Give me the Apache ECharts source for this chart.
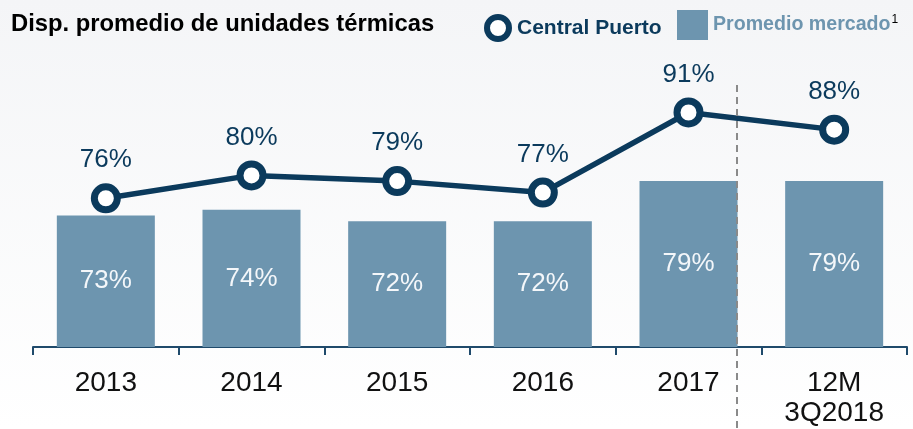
<!DOCTYPE html>
<html>
<head>
<meta charset="utf-8">
<script src="https://cdn.jsdelivr.net/npm/echarts@6/dist/echarts.min.js"></script>
<style>
  html, body { margin: 0; padding: 0; }
  #chart { width: 913px; height: 429px; }
</style>
</head>
<body>
<div id="chart"></div>
<script>
// categorias y valores
var categorias = ['2013', '2014', '2015', '2016', '2017', '12M\n3Q2018'];
var promedioMercado = [73, 74, 72, 72, 79, 79];
var centralPuerto = [76, 80, 79, 77, 91, 88];

var azulOscuro = '#0b3a5c';
var azulBarra = '#6d95af';
var fuente = 'Liberation Sans, Arial, sans-serif';

var chartDom = document.getElementById('chart');
var chart = echarts.init(chartDom);

var option = {
  animation: false,
  backgroundColor: new echarts.graphic.LinearGradient(0, 0, 0, 1, [
    { offset: 0, color: '#f4f5f7' },
    { offset: 1, color: '#ffffff' }
  ]),
  title: {
    text: 'Disp. promedio de unidades térmicas',
    left: 6,
    top: 7,
    textStyle: {
      fontFamily: fuente,
      fontSize: 23.8,
      fontWeight: 'bold',
      color: '#000'
    }
  },
  legend: [{
    data: [{
      name: 'Central Puerto',
      icon: 'circle',
      itemStyle: { color: '#fff', borderColor: azulOscuro, borderWidth: 6 }
    }],
    left: 479,
    top: 9,
    itemWidth: 22,
    itemHeight: 22,
    textStyle: {
      fontFamily: fuente,
      fontSize: 21,
      fontWeight: 'bold',
      color: azulOscuro,
      padding: [0, 0, 0, 3]
    }
  }, {
    data: [{ name: 'Promedio mercado', icon: 'rect' }],
    left: 672,
    top: 5,
    itemWidth: 31,
    itemHeight: 30,
    formatter: function (name) {
      return '{a|' + name + '}{b|1}';
    },
    textStyle: {
      fontFamily: fuente,
      rich: {
        a: { fontFamily: fuente, fontSize: 19.6, fontWeight: 'bold', color: azulBarra },
        b: { fontFamily: fuente, fontSize: 12, color: '#000', padding: [0, 0, 10, 1] }
      }
    }
  }],
  grid: {
    left: 33,
    right: 6,
    top: 61,
    bottom: 82
  },
  xAxis: {
    type: 'category',
    data: categorias,
    axisLine: { lineStyle: { color: '#1f4a6b', width: 2 } },
    axisTick: { show: true, length: 8, lineStyle: { color: '#1f4a6b', width: 2 } },
    axisLabel: {
      margin: 21,
      fontFamily: fuente,
      fontSize: 28,
      lineHeight: 30,
      color: '#111'
    }
  },
  yAxis: {
    type: 'value',
    min: 50,
    max: 100,
    show: false,
    splitLine: { show: false }
  },
  series: [{
    name: 'Promedio mercado',
    type: 'bar',
    data: promedioMercado,
    barWidth: 98,
    itemStyle: { color: azulBarra },
    label: {
      show: true,
      position: 'inside',
      formatter: '{c}%',
      fontFamily: fuente,
      fontSize: 26,
      color: '#f4f7fa'
    }
  }, {
    name: 'Central Puerto',
    type: 'line',
    data: centralPuerto,
    symbol: 'circle',
    symbolSize: 23,
    lineStyle: { color: azulOscuro, width: 5.5 },
    itemStyle: { color: '#fff', borderColor: azulOscuro, borderWidth: 7 },
    label: {
      show: true,
      position: 'top',
      distance: 10,
      formatter: '{c}%',
      fontFamily: fuente,
      fontSize: 26,
      color: azulOscuro
    },
    z: 3
  }]
};

chart.setOption(option);

// linea punteada separando los datos anuales del ultimo periodo
var xCentro = chart.convertToPixel({ xAxisIndex: 0 }, categorias[4]);
var xCorte = Math.round(xCentro + 48);
chart.setOption({
  graphic: [{
    type: 'line',
    shape: { x1: xCorte, y1: 85, x2: xCorte, y2: 429 },
    style: { stroke: '#8a8a8a', lineWidth: 2, lineDash: [7, 5] },
    z: 10
  }]
});
</script>
</body>
</html>
